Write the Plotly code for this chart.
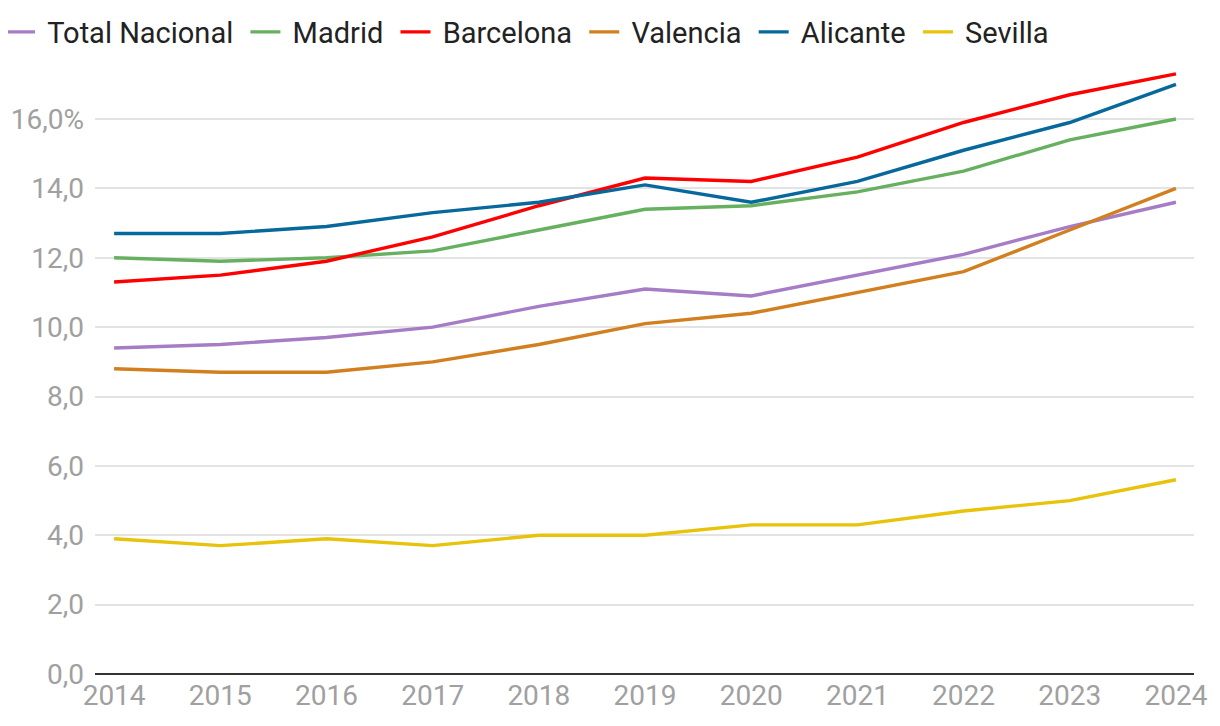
import plotly.graph_objects as go

years = [2014, 2015, 2016, 2017, 2018, 2019, 2020, 2021, 2022, 2023, 2024]
total_nacional = [9.4, 9.5, 9.7, 10.0, 10.6, 11.1, 10.9, 11.5, 12.1, 12.9, 13.6]
madrid = [12.0, 11.9, 12.0, 12.2, 12.8, 13.4, 13.5, 13.9, 14.5, 15.4, 16.0]
barcelona = [11.3, 11.5, 11.9, 12.6, 13.5, 14.3, 14.2, 14.9, 15.9, 16.7, 17.3]
valencia = [8.8, 8.7, 8.7, 9.0, 9.5, 10.1, 10.4, 11.0, 11.6, 12.8, 14.0]
alicante = [12.7, 12.7, 12.9, 13.3, 13.6, 14.1, 13.6, 14.2, 15.1, 15.9, 17.0]
sevilla = [3.9, 3.7, 3.9, 3.7, 4.0, 4.0, 4.3, 4.3, 4.7, 5.0, 5.6]

series = [
    ("Total Nacional", total_nacional, "#a67cc6"),
    ("Madrid", madrid, "#66b060"),
    ("Barcelona", barcelona, "#ff0000"),
    ("Valencia", valencia, "#d17f1f"),
    ("Alicante", alicante, "#07699b"),
    ("Sevilla", sevilla, "#e8c30b"),
]

y_tickvals = [0, 2, 4, 6, 8, 10, 12, 14, 16]
y_ticktext = ["0,0", "2,0", "4,0", "6,0", "8,0", "10,0", "12,0", "14,0", "16,0%"]

FONT = "Roboto, sans-serif"
L, R, T, B = 87, 34, 59, 60
PW = 1220 - L - R
SP = "\u00a0"

fig = go.Figure()
for name, vals, color in series:
    fig.add_trace(go.Scatter(x=years, y=vals, name=SP + name + SP, mode="lines",
                             line=dict(color=color, width=3.4)))

fig.update_layout(
    width=1220, height=726,
    paper_bgcolor="white", plot_bgcolor="white",
    margin=dict(l=L, r=R, t=T, b=B, autoexpand=False),
    font=dict(family=FONT, color="#222222"),
    legend=dict(orientation="h", x=-(L + 8) / PW, xanchor="left", y=1 + 35 / (726 - T - B), yanchor="middle",
                font=dict(size=29, color="#222222", family=FONT),
                itemwidth=30, tracegroupgap=0, bgcolor="rgba(0,0,0,0)"),
    showlegend=True,
)
fig.update_xaxes(range=[2013.82, 2024.17], tickvals=years, ticktext=[str(y) for y in years],
                 showgrid=False, zeroline=False, showline=False,
                 tickfont=dict(size=28, color="#a0a0a0", family=FONT), ticks="",
                 ticklabelstandoff=2)
fig.update_yaxes(range=[0, 17.5], tickvals=y_tickvals, ticktext=y_ticktext,
                 showgrid=True, gridcolor="#e3e3e3", gridwidth=2,
                 zeroline=True, zerolinecolor="#333333", zerolinewidth=2,
                 showline=False, ticks="", ticklabelstandoff=10,
                 tickfont=dict(size=28, color="#a0a0a0", family=FONT))

fig.write_html("out.html")
